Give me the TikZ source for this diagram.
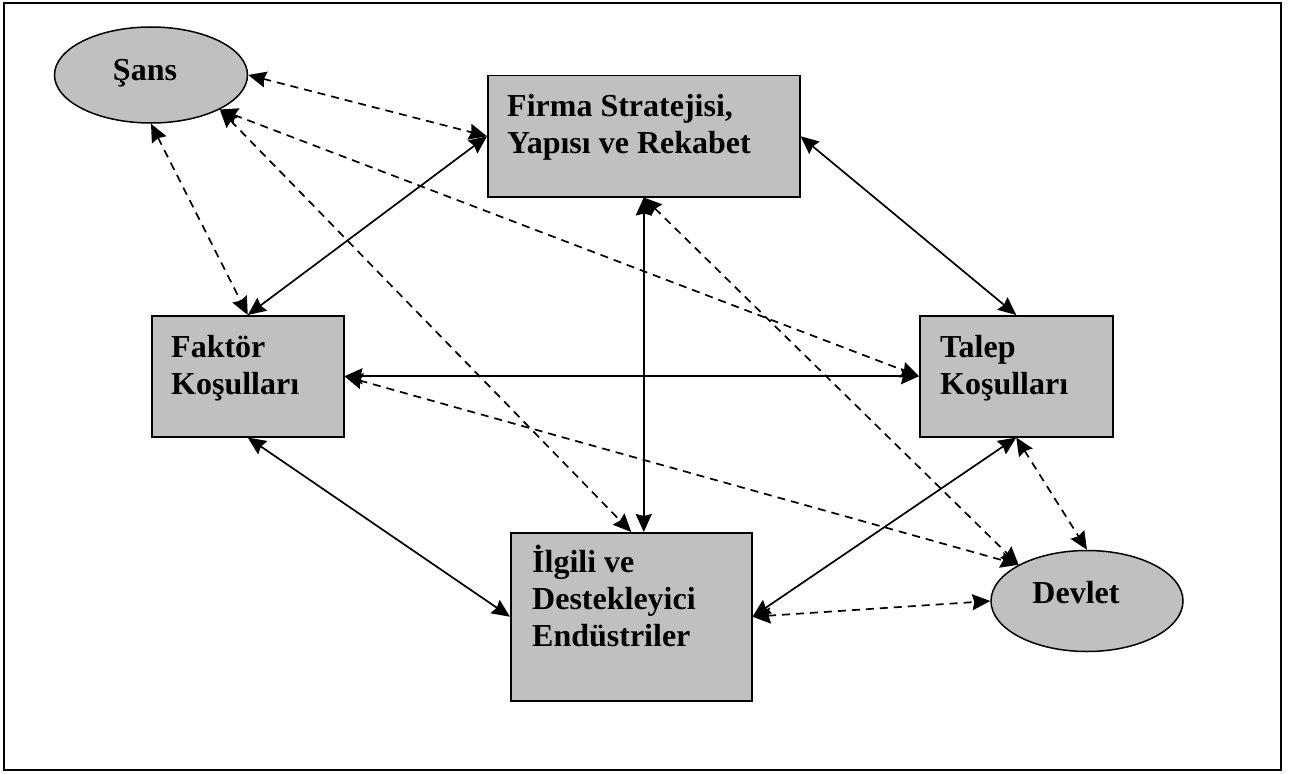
\documentclass[tikz,border=0pt]{standalone}
\usepackage{fontspec}
\setmainfont{Liberation Serif}
\usetikzlibrary{arrows.meta, shapes.geometric}
\definecolor{kutugri}{RGB}{192,192,192}

\begin{document}
\begin{tikzpicture}[x=1pt, y=-1pt,
    kutu/.style={draw=black, line width=1.5pt, fill=kutugri, inner sep=0pt, anchor=north west},
    elips/.style={ellipse, draw=black, line width=1.5pt, fill=kutugri, inner sep=0pt},
    yazi/.style={font=\fontsize{32}{37}\selectfont\bfseries, align=left, inner sep=0pt},
    ok/.style={line width=1.7pt, {Stealth[length=18pt,width=16pt,inset=2pt]}-{Stealth[length=18pt,width=16pt,inset=2pt]}},
    kesik/.style={ok, dash pattern=on 8pt off 6pt}]
    \useasboundingbox (0,0) rectangle (1289,773);
    \draw[line width=1.5pt] (4,3) rectangle (1281,770);

    % kutular
    \node[kutu, minimum width=312pt, minimum height=121pt] (firma) at (487,75) {};
    \node[kutu, minimum width=192pt, minimum height=121pt] (faktor) at (151,315) {};
    \node[kutu, minimum width=193pt, minimum height=121pt] (talep) at (919,315) {};
    \node[kutu, minimum width=241pt, minimum height=168pt] (ilgili) at (510,532) {};
    \node[elips, minimum width=193pt, minimum height=96pt] (sans) at (151,75) {};
    \node[elips, minimum width=192pt, minimum height=101pt] (devlet) at (1087,601) {};

    % yazilar
    \node[yazi, anchor=north west] (firmaT) at (507,94) {Firma Stratejisi,\\Yapısı ve Rekabet};
    \node[yazi, anchor=north west] (faktorT) at (171,335) {Faktör\\Koşulları};
    \node[yazi, anchor=north west] (talepT) at (940,335) {Talep\\Koşulları};
    \node[yazi, anchor=north west] (ilgiliT) at (532,545) {İlgili ve\\Destekleyici\\Endüstriler};
    \node[yazi, anchor=base] (sansT) at (145,81) {Şans};
    \node[yazi, anchor=base] (devletT) at (1076,603) {Devlet};

    % duz oklar
    \draw[ok] (firma.west) -- (faktor.north);
    \draw[ok] (firma.east) -- (talep.north);
    \draw[ok] (firma.south) -- (firma.south |- ilgili.north);
    \draw[ok] (faktor.east) -- (talep.west);
    \draw[ok] (faktor.south) -- (ilgili.west);
    \draw[ok] (talep.south) -- (ilgili.east);

    % kesikli oklar
    \draw[kesik] (sans.east) -- (firma.west);
    \draw[kesik] (sans.south) -- (faktor.north);
    \draw[kesik] (sans.south east) -- (talep.west);
    \draw[kesik] (sans.south east) -- (ilgili.north);
    \draw[kesik] (firma.south) -- (devlet.north west);
    \draw[kesik] (faktor.east) -- (devlet.north west);
    \draw[kesik] (talep.south) -- (devlet.north);
    \draw[kesik] (ilgili.east) -- (devlet.west);
\end{tikzpicture}
\end{document}
